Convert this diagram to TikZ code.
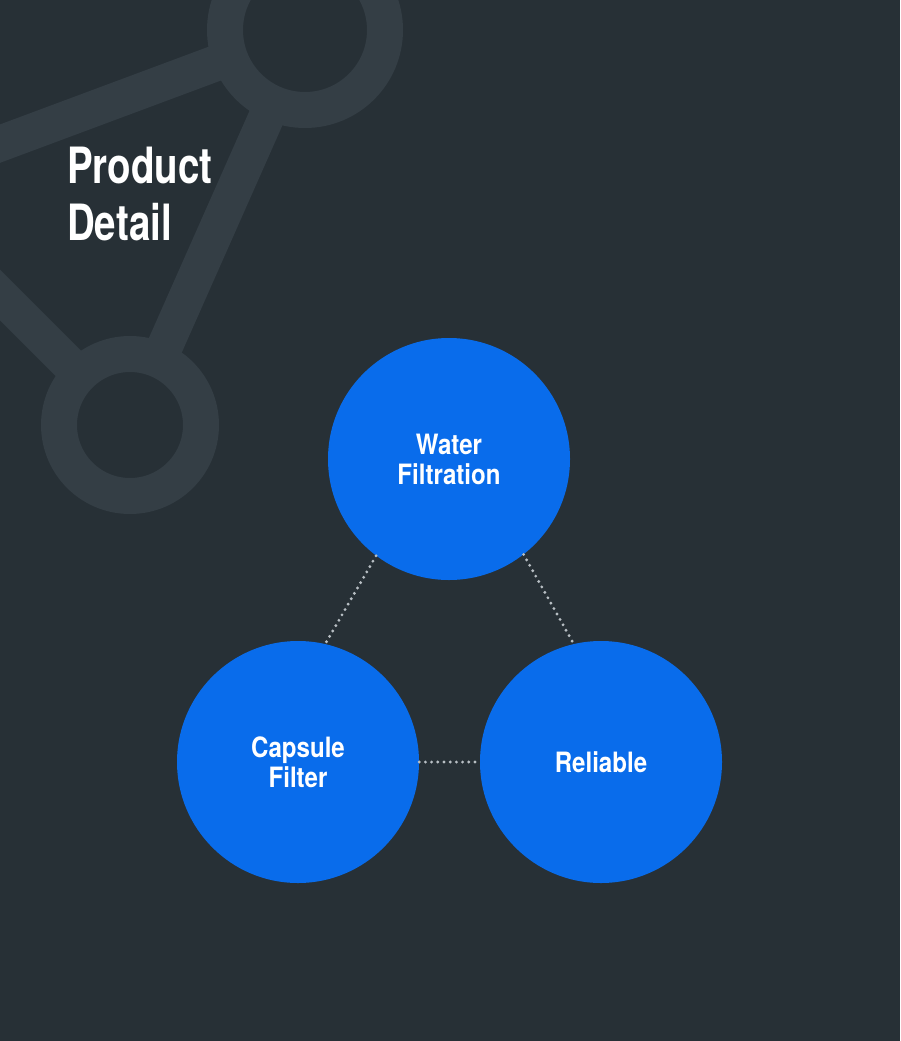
\documentclass[tikz,border=0pt]{standalone}
\usepackage{fontspec}
\usetikzlibrary{positioning}
\newfontfamily\titlefont{TeX Gyre Heros}[FakeStretch=0.77]
\newfontfamily\bubblefont{TeX Gyre Heros}[FakeStretch=0.86]
\definecolor{SlateBg}{HTML}{273036}
\definecolor{SlateLine}{HTML}{343E45}
\definecolor{BubbleBlue}{HTML}{096CEB}
\definecolor{DotGrey}{HTML}{B8BFC4}
\tikzset{
  deco/.style={draw=SlateLine,line width=36pt},
  ring/.style={deco,fill=SlateBg},
  bubble/.style={circle,fill=BubbleBlue,minimum size=242pt,inner sep=0pt,text=white,align=center,
    font=\bubblefont\bfseries\fontsize{28}{30}\selectfont},
  link/.style={draw=DotGrey,line width=3.2pt,line cap=round,dash pattern=on 0pt off 6.2pt},
  headline/.style={text=white,align=left,inner sep=0pt,font=\titlefont\bfseries\fontsize{50}{57}\selectfont}
}

\begin{document}
\begin{tikzpicture}[x=1pt,y=-1pt]
  \useasboundingbox[fill=SlateBg] (0,0) rectangle (900,1041);
  \clip (0,0) rectangle (900,1041);
  % background network
  \coordinate (r1) at (305,30);
  \coordinate (r2) at (130,425);
  \draw[deco] (-60,166) -- (r1) -- (r2) -- (-60,235);
  \draw[ring] (r1) circle[radius=80];
  \draw[ring] (r2) circle[radius=71];
  % title
  \node[headline,anchor=base west] (title) at (67,240) {Product\\Detail};
  % bubbles
  \node[bubble] (water) at (449,459) {Water\\Filtration};
  \node[bubble] (capsule) at (298,762) {Capsule\\Filter};
  \node[bubble] (reliable) at (601,762) {Reliable};
  \draw[link] (water.233) -- (capsule.77);
  \draw[link] (water.308) -- (reliable.103);
  \draw[link] (capsule.east) -- (reliable.west);
\end{tikzpicture}
\end{document}
